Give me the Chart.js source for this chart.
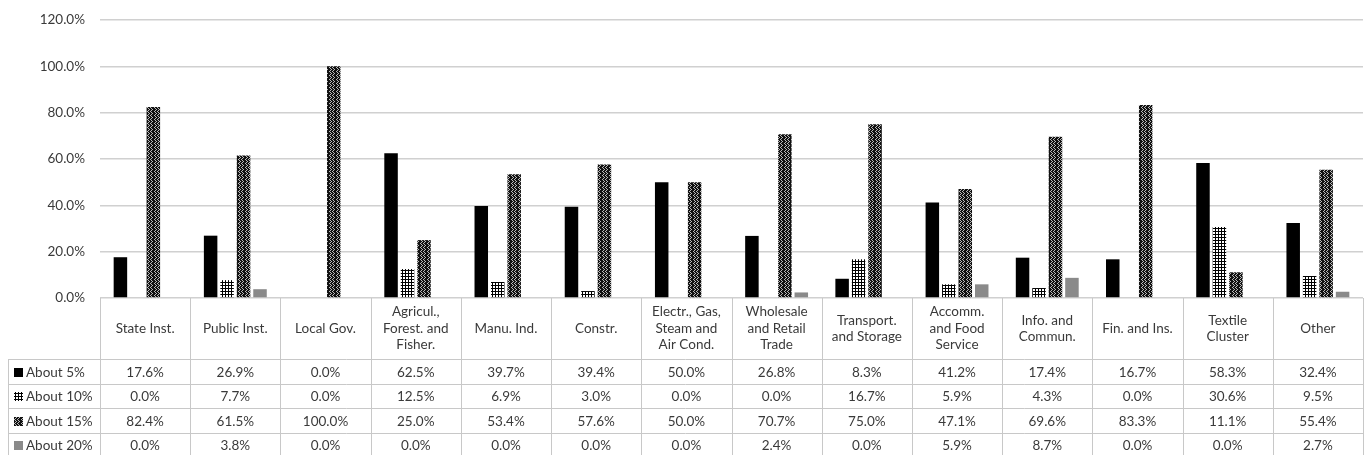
<!DOCTYPE html>
<html>
<head>
<meta charset="utf-8">
<script src="https://cdn.jsdelivr.net/npm/chart.js@4.4.0/dist/chart.umd.min.js"></script>
<style>
  html, body { margin: 0; padding: 0; background: #fff; }
  #wrap { width: 1365px; height: 455px; }
</style>
</head>
<body>
<div id="wrap"><canvas id="myChart"></canvas></div>
<script>
// categories (multi-line header labels of the data table)
const categories = [
    ['State Inst.'], ['Public Inst.'], ['Local Gov.'], ['Agricul.,', 'Forest. and', 'Fisher.'],
    ['Manu. Ind.'], ['Constr.'], ['Electr., Gas,', 'Steam and', 'Air Cond.'],
    ['Wholesale', 'and Retail', 'Trade'], ['Transport.', 'and Storage'],
    ['Accomm.', 'and Food', 'Service'], ['Info. and', 'Commun.'], ['Fin. and Ins.'],
    ['Textile', 'Cluster'], ['Other']
];
const seriesNames = ['About 5%', 'About 10%', 'About 15%', 'About 20%'];
const about5 = [17.6, 26.9, 0.0, 62.5, 39.7, 39.4, 50.0, 26.8, 8.3, 41.2, 17.4, 16.7, 58.3, 32.4];
const about10 = [0.0, 7.7, 0.0, 12.5, 6.9, 3.0, 0.0, 0.0, 16.7, 5.9, 4.3, 0.0, 30.6, 9.5];
const about15 = [82.4, 61.5, 100.0, 25.0, 53.4, 57.6, 50.0, 70.7, 75.0, 47.1, 69.6, 83.3, 11.1, 55.4];
const about20 = [0.0, 3.8, 0.0, 0.0, 0.0, 0.0, 0.0, 2.4, 0.0, 5.9, 8.7, 0.0, 0.0, 2.7];
const yTicks = [0, 20, 40, 60, 80, 100, 120];

const FONT = 'Lato, "Open Sans", sans-serif';
const TEXT = '#3a3a3a';

// fill patterns
function makeTile(w, h, draw) {
    const c = document.createElement('canvas');
    c.width = w; c.height = h;
    const g = c.getContext('2d');
    draw(g);
    return document.getElementById('myChart').getContext('2d').createPattern(c, 'repeat');
}
const gridPattern = makeTile(3, 3, g => {
    g.fillStyle = '#fff'; g.fillRect(0, 0, 3, 3);
    g.fillStyle = '#000'; g.fillRect(0, 0, 3, 1); g.fillRect(0, 0, 1, 3);
});
const zigzagPattern = makeTile(7, 4, g => {
    g.fillStyle = '#111'; g.fillRect(0, 0, 7, 4);
    g.fillStyle = '#bbb';
    [[1, 0], [2, 1], [1, 2], [0, 3], [4, 0], [5, 1], [4, 2], [3, 3]].forEach(p => g.fillRect(p[0], p[1], 1, 1));
});
const fills = ['#000000', gridPattern, zigzagPattern, '#8a8a8a'];
const values = [about5, about10, about15, about20];

const tablePlugin = {
    id: 'dataTable',
    afterDraw(chart) {
        const { ctx, chartArea, scales: { x } } = chart;
        const n = categories.length;
        const colW = x.width / n;
        const top = Math.round(chartArea.bottom);
        const headerBottom = top + 61;
        const rowH = 24.5;
        const H = chart.height;
        const left = 8;
        const px = v => Math.round(v) + 0.5;
        ctx.save();
        ctx.strokeStyle = '#c8c8c8';
        ctx.lineWidth = 1;
        ctx.beginPath();
        for (let i = 0; i <= n; i++) {
            const xp = px(x.left + i * colW);
            ctx.moveTo(xp, top); ctx.lineTo(xp, H);
        }
        ctx.moveTo(px(left), headerBottom); ctx.lineTo(px(left), H);
        for (let r = 0; r < 4; r++) {
            const yp = px(headerBottom + r * rowH);
            ctx.moveTo(left, yp); ctx.lineTo(x.right, yp);
        }
        ctx.stroke();

        ctx.fillStyle = TEXT;
        ctx.font = '13.5px ' + FONT;
        ctx.textAlign = 'center';
        ctx.textBaseline = 'middle';
        const lh = 16.5;
        categories.forEach((lines, i) => {
            const cx = x.getPixelForValue(i);
            const cy = (top + headerBottom) / 2;
            lines.forEach((t, k) => {
                ctx.fillText(t, cx, cy + (k - (lines.length - 1) / 2) * lh);
            });
        });
        values.forEach((arr, r) => {
            const cy = headerBottom + r * rowH + rowH / 2 + 1;
            arr.forEach((v, i) => {
                ctx.fillText(v.toFixed(1) + '%', x.getPixelForValue(i), cy);
            });
            ctx.save();
            ctx.fillStyle = fills[r];
            ctx.fillRect(14, Math.round(cy - 4.5), 9, 9);
            ctx.restore();
            ctx.textAlign = 'left';
            ctx.fillText(seriesNames[r], 26, cy);
            ctx.textAlign = 'center';
        });
        ctx.restore();
    }
};

const ctx = document.getElementById('myChart');
const myChart = new Chart(ctx, {
    type: 'bar',
    data: {
        labels: categories.map(c => c.join(' ')),
        datasets: seriesNames.map((name, r) => ({
            label: name,
            data: values[r],
            backgroundColor: fills[r],
            borderWidth: 0,
            categoryPercentage: 0.73,
            barPercentage: 0.82
        }))
    },
    options: {
        responsive: true,
        maintainAspectRatio: false,
        animation: false,
        layout: { padding: { top: 20, right: 2, bottom: 149, left: 0 } },
        plugins: { legend: { display: false }, tooltip: { enabled: false } },
        scales: {
            x: {
                grid: { display: false },
                border: { display: false },
                ticks: { display: false }
            },
            y: {
                min: 0, max: 120,
                afterFit(scale) { scale.width = 100; scale.paddingTop = 0; scale.paddingBottom = 0; },
                afterBuildTicks(scale) { scale.ticks = yTicks.map(v => ({ value: v })); },
                grid: { color: '#d0d0d0', lineWidth: 1.5, drawTicks: false },
                border: { display: false },
                ticks: {
                    padding: 15,
                    color: TEXT,
                    font: { family: FONT, size: 13.5 },
                    callback: v => v.toFixed(1) + '%'
                }
            }
        }
    },
    plugins: [tablePlugin]
});
</script>
</body>
</html>
